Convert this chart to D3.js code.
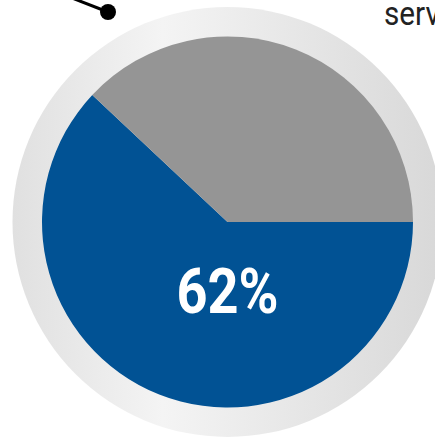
<!DOCTYPE html>
<html>
<head>
<meta charset="utf-8">
<script src="https://cdn.jsdelivr.net/npm/d3@7"></script>
<style>
  html, body { margin: 0; padding: 0; background: #fff; overflow: hidden; }
</style>
</head>
<body>
<svg id="chart" width="435" height="437"></svg>
<script>
// chart values
var categories = ["yes", "no"];
var values = [62, 38];
var colors = ["#015294", "#959595"];
var centerLabel = "62%";
var sideLabel = "services";

var svg = d3.select("#chart");
var cx = 227.5, cy = 222, r = 185.5, ringR = 215;

var defs = svg.append("defs");
var grad = defs.append("linearGradient")
  .attr("id", "ring")
  .attr("x1", "0%").attr("y1", "0%")
  .attr("x2", "100%").attr("y2", "0%");
grad.append("stop").attr("offset", "0%").attr("stop-color", "#e0e0e0");
grad.append("stop").attr("offset", "35%").attr("stop-color", "#f4f4f4");
grad.append("stop").attr("offset", "100%").attr("stop-color", "#d8d8d8");

// outer ring
svg.append("circle")
  .attr("cx", cx)
  .attr("cy", cy)
  .attr("r", ringR)
  .attr("fill", "url(#ring)");

var pie = d3.pie()
  .sort(null)
  .startAngle(Math.PI / 2)
  .endAngle(Math.PI / 2 + 2 * Math.PI);

var arc = d3.arc().innerRadius(0).outerRadius(r);

var g = svg.append("g").attr("transform", "translate(" + cx + "," + cy + ")");
g.selectAll("path")
  .data(pie(values))
  .enter()
  .append("path")
  .attr("d", arc)
  .attr("fill", function(d, i){ return colors[i]; });

g.append("text")
  .attr("x", 0)
  .attr("y", 91)
  .attr("text-anchor", "middle")
  .attr("fill", "#fff")
  .attr("font-family", "Roboto, 'Liberation Sans', sans-serif")
  .attr("font-weight", "bold")
  .attr("font-size", 63)
  .attr("textLength", 102)
  .attr("lengthAdjust", "spacingAndGlyphs")
  .text(centerLabel);

// leader line
svg.append("line")
  .attr("x1", 72).attr("y1", -2)
  .attr("x2", 108).attr("y2", 12)
  .attr("stroke", "#000")
  .attr("stroke-width", 3);
svg.append("circle")
  .attr("cx", 108).attr("cy", 12)
  .attr("r", 8)
  .attr("fill", "#000");

// label running off the right edge, as in the source
svg.append("text")
  .attr("transform", "translate(384,25) scale(0.9,1)")
  .attr("fill", "#222")
  .attr("font-family", "Roboto, sans-serif")
  .attr("font-size", 33)
  .text(sideLabel);
</script>
</body>
</html>
